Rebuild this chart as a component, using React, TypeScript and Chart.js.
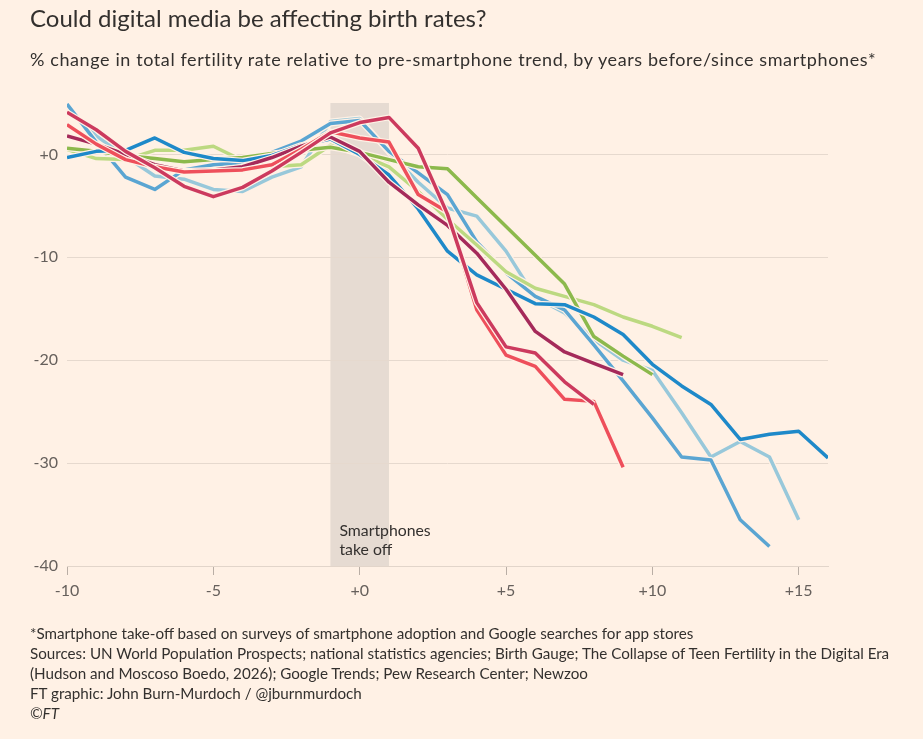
import React, { useEffect, useRef } from "react";
import { Chart, registerables } from "chart.js";

Chart.register(...registerables);

const years = [-10, -9, -8, -7, -6, -5, -4, -3, -2, -1, 0, 1, 2, 3, 4, 5, 6, 7, 8, 9, 10, 11, 12, 13, 14, 15, 16];

const crimson = [4.1, 2.4, 0.3, -1.3, -3.1, -4.1, -3.2, -1.6, 0.2, 2.1, 3.1, 3.6, 0.6, -5.8, -14.4, -18.7, -19.3, -22.1, -24.3, null, null, null, null, null, null, null, null];
const red = [2.9, 1.0, -0.5, -1.2, -1.7, -1.6, -1.5, -1.0, 0.5, 2.2, 1.6, 1.2, -3.9, -5.6, -15.1, -19.5, -20.6, -23.8, -24.0, -30.4, null, null, null, null, null, null, null];
const maroon = [1.8, 1.0, 0.0, -1.0, -1.6, -1.5, -1.2, -0.3, 0.8, 1.7, 0.3, -2.7, -4.9, -6.9, -9.6, -13.1, -17.2, -19.2, -20.3, -21.4, null, null, null, null, null, null, null];
const darkBlue = [-0.3, 0.3, 0.4, 1.6, 0.2, -0.4, -0.6, -0.1, 0.9, 1.5, 0.0, -2.0, -5.3, -9.4, -11.7, -13.1, -14.5, -14.6, -15.8, -17.5, -20.4, -22.5, -24.3, -27.7, -27.2, -26.9, -29.5];
const darkGreen = [0.6, 0.3, -0.1, -0.4, -0.7, -0.5, -0.3, 0.1, 0.4, 0.7, 0.2, -0.5, -1.2, -1.4, -4.2, -7.0, -9.8, -12.6, -17.7, -19.6, -21.4, null, null, null, null, null, null];
const lightGreen = [0.5, -0.4, -0.5, 0.4, 0.4, 0.8, -0.6, -1.2, -1.0, 0.9, 0.0, -1.2, -3.6, -6.3, -8.8, -11.4, -13.0, -13.8, -14.6, -15.8, -16.7, -17.8, null, null, null, null, null];
const midBlue = [4.9, 1.2, -2.2, -3.4, -1.5, -1.0, -0.8, 0.2, 1.3, 3.0, 3.3, 0.3, -1.8, -3.9, -8.5, -11.5, -13.8, -15.1, -18.5, -22.0, -25.6, -29.4, -29.7, -35.5, -38.1, null, null];
const lightBlue = [4.7, 1.8, -0.2, -2.1, -2.4, -3.4, -3.6, -2.2, -1.2, 3.2, 3.5, 0.2, -2.7, -5.2, -6.0, -9.4, -13.9, -15.4, -18.0, -20.0, -21.0, -25.1, -29.4, -27.9, -29.4, -35.5, null];

const seriesValues = [crimson, red, maroon, darkBlue, darkGreen, lightGreen, midBlue, lightBlue];
const seriesColors = ["#cc3a5e", "#ee4f5b", "#a52a5a", "#1e89c9", "#8cb94c", "#bcd981", "#5aa5d2", "#98c8da"];

const yTicks = [0, -10, -20, -30, -40];
const xTicks = [-10, -5, 0, 5, 10, 15];
const bandStart = -1;
const bandEnd = 1;
const bandLabel = ["Smartphones", "take off"];

const BG = "#fff1e5";
const FONT = "Lato, 'Open Sans', sans-serif";

const fmt = (v: number) => (v > 0 ? "+" + v : v === 0 ? "+0" : String(v));

const bandPlugin = {
  id: "band",
  beforeDraw(chart: any) {
    const { ctx, chartArea, scales } = chart;
    const x0 = scales.x.getPixelForValue(bandStart);
    const x1 = scales.x.getPixelForValue(bandEnd);
    ctx.save();
    ctx.fillStyle = "#e6dbd2";
    ctx.fillRect(x0, chartArea.top, x1 - x0, chartArea.bottom - chartArea.top);
    ctx.fillStyle = "#33302e";
    ctx.font = "15.8px " + FONT;
    ctx.textBaseline = "middle";
    ctx.textAlign = "left";
    const yb = chartArea.bottom;
    ctx.fillText(bandLabel[0], x0 + 9, yb - 35);
    ctx.fillText(bandLabel[1], x0 + 9, yb - 16);
    ctx.restore();
  },
};

export default function App() {
  const ref = useRef<HTMLCanvasElement | null>(null);

  useEffect(() => {
    document.body.style.margin = "0";
    document.body.style.background = BG;
    if (!ref.current) return;
    const datasets: any[] = [];
    seriesValues.forEach((vals, i) => {
      const data = years
        .map((x, j) => ({ x, y: vals[j] }))
        .filter((p) => p.y !== null);
      datasets.push({
        data,
        borderColor: seriesColors[i],
        borderWidth: 3.5,
        pointRadius: 0,
        tension: 0,
        borderJoinStyle: "round",
        borderCapStyle: "butt",
        order: i * 2,
      });
      datasets.push({
        data,
        borderColor: BG,
        borderWidth: 6,
        pointRadius: 0,
        tension: 0,
        borderJoinStyle: "round",
        order: i * 2 + 1,
      });
    });

    const chart = new Chart(ref.current, {
      type: "line",
      data: { datasets },
      plugins: [bandPlugin],
      options: {
        animation: false,
        responsive: false,
        devicePixelRatio: 1,
        layout: { padding: { left: 0, top: 103, right: 95, bottom: 0 } },
        plugins: { legend: { display: false }, tooltip: { enabled: false } },
        scales: {
          x: {
            type: "linear",
            min: -10,
            max: 16,
            afterBuildTicks: (s: any) => {
              s.ticks = xTicks.map((v) => ({ value: v }));
            },
            afterFit: (s: any) => {
              s.height = 739 - 566;
            },
            grid: {
              drawOnChartArea: false,
              drawTicks: true,
              tickLength: 9,
              color: "#b9aea5",
            },
            border: { display: true, color: "#e2d5ca", width: 1 },
            ticks: {
              padding: 6,
              color: "#66605c",
              font: { family: FONT, size: 16 },
              callback: (v: any) => fmt(Number(v)),
              maxRotation: 0,
            },
          },
          y: {
            type: "linear",
            min: -40,
            max: 5,
            afterBuildTicks: (s: any) => {
              s.ticks = yTicks.map((v) => ({ value: v }));
            },
            afterFit: (s: any) => {
              s.width = 67;
            },
            grid: { drawTicks: false, color: "#e6d9ce", lineWidth: 1 },
            border: { display: false },
            ticks: {
              padding: 9,
              color: "#66605c",
              font: { family: FONT, size: 16 },
              callback: (v: any) => fmt(Number(v)),
            },
          },
        },
      },
    });
    return () => chart.destroy();
  }, []);

  const text: React.CSSProperties = {
    position: "absolute",
    left: 30,
    color: "#33302e",
    fontFamily: FONT,
    whiteSpace: "nowrap",
    margin: 0,
  };

  return (
    <div style={{ position: "fixed", left: 0, top: 0, width: 923, height: 739, background: BG, overflow: "hidden" }}>
      <canvas ref={ref} width={923} height={739} style={{ position: "absolute", left: 0, top: 0, width: 923, height: 739 }} />
      <div style={{ ...text, top: 3, fontSize: 24 }}>Could digital media be affecting birth rates?</div>
      <div style={{ ...text, top: 48, fontSize: 18, letterSpacing: "0.6px" }}>
        % change in total fertility rate relative to pre-smartphone trend, by years before/since smartphones*
      </div>
      <div style={{ ...text, top: 624, fontSize: 15.2, lineHeight: "19.9px" }}>
        <div>*Smartphone take-off based on surveys of smartphone adoption and Google searches for app stores</div>
        <div>Sources: UN World Population Prospects; national statistics agencies; Birth Gauge; The Collapse of Teen Fertility in the Digital Era</div>
        <div>(Hudson and Moscoso Boedo, 2026); Google Trends; Pew Research Center; Newzoo</div>
        <div>FT graphic: John Burn-Murdoch / @jburnmurdoch</div>
        <div style={{ fontStyle: "italic" }}>©FT</div>
      </div>
    </div>
  );
}
